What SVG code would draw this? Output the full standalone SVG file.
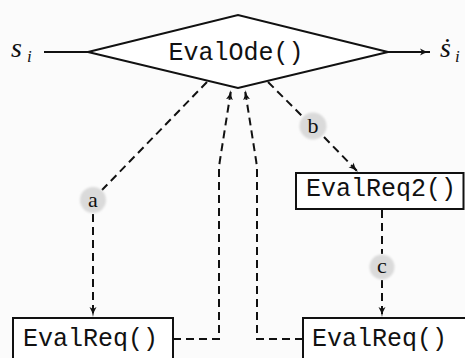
<svg xmlns="http://www.w3.org/2000/svg" width="465" height="358" viewBox="0 0 465 358">
  <defs>
    <style>
      .shape { fill: #ffffff; stroke: #111111; stroke-width: 2; }
      .wire { fill: none; stroke: #111111; stroke-width: 2; }
      .dash { fill: none; stroke: #111111; stroke-width: 2; stroke-dasharray: 8 5; }
      .code { font-family: "Liberation Mono", "Courier New", monospace; font-size: 25px; fill: #111111; }
      .math { font-family: "Liberation Serif", "Times New Roman", serif; font-style: italic; fill: #111111; }
      .tag { fill: #dadada; }
      .tagtext { font-family: "Liberation Serif", "Times New Roman", serif; font-size: 22px; fill: #111111; text-anchor: middle; }
    </style>
    <marker id="arrow" viewBox="0 0 10 8" refX="10" refY="4" markerWidth="10" markerHeight="8" markerUnits="userSpaceOnUse" orient="auto">
      <path d="M0,0.5 Q4,3.2 10,4 Q4,4.8 0,7.5 L2,4 Z" fill="#111111"/>
    </marker>
    <filter id="soft" x="-30%" y="-30%" width="160%" height="160%">
      <feGaussianBlur stdDeviation="1.2"/>
    </filter>
  </defs>

  <rect width="465" height="358" fill="#fbfbfb"/>

  <!-- connectors -->
  <g id="connectors">
    <!-- state in / derivative out -->
    <line class="wire" x1="44" y1="52" x2="88" y2="52"/>
    <line class="wire" x1="388" y1="52" x2="430" y2="52" marker-end="url(#arrow)"/>
    <!-- a: EvalOde -> EvalReq (left) -->
    <path class="dash" d="M207,82 L102,190"/>
    <path class="dash" d="M93,214 L93,317" marker-end="url(#arrow)"/>
    <!-- b: EvalOde -> EvalReq2 -->
    <path class="dash" d="M268,82 L302,116"/>
    <path class="dash" d="M324,137 L358,172" marker-end="url(#arrow)"/>
    <!-- c: EvalReq2 -> EvalReq (right) -->
    <path class="dash" d="M382,210 L382,254"/>
    <path class="dash" d="M382,280 L382,317" marker-end="url(#arrow)"/>
    <!-- results back to EvalOde -->
    <path class="dash" d="M173,339 L219,339 L219,172 Q219,166 220,160 L231,90" marker-end="url(#arrow)"/>
    <path class="dash" d="M303,339 L257,339 L257,172 Q257,166 256,160 L245,90" marker-end="url(#arrow)"/>
  </g>

  <!-- edge labels -->
  <g id="label-a">
    <circle class="tag" cx="93" cy="200" r="13" filter="url(#soft)"/>
    <text class="tagtext" x="93" y="207">a</text>
  </g>
  <g id="label-b">
    <circle class="tag" cx="313" cy="126" r="13.5" filter="url(#soft)"/>
    <text class="tagtext" x="313" y="133">b</text>
  </g>
  <g id="label-c">
    <circle class="tag" cx="382" cy="267" r="12.5" filter="url(#soft)"/>
    <text class="tagtext" x="382" y="273">c</text>
  </g>

  <!-- nodes -->
  <g id="node-si">
    <text class="math" x="11" y="57" font-size="28">s</text>
    <text class="math" x="27" y="62" font-size="17">i</text>
  </g>
  <g id="node-sdot">
    <text class="math" x="440" y="57" font-size="28">ṡ</text>
    <text class="math" x="455" y="62" font-size="17">i</text>
  </g>
  <g id="node-evalode">
    <polygon class="shape" points="88,52 238,15 388,52 238,88"/>
    <text class="code" x="236" y="60" text-anchor="middle">EvalOde()</text>
  </g>
  <g id="node-evalreq2">
    <rect class="shape" x="296" y="173" width="167.5" height="36"/>
    <text class="code" x="306" y="196">EvalReq2()</text>
  </g>
  <g id="node-evalreq-left">
    <rect class="shape" x="13" y="318" width="160" height="50"/>
    <text class="code" x="23" y="346">EvalReq()</text>
  </g>
  <g id="node-evalreq-right">
    <rect class="shape" x="303" y="318" width="170" height="50"/>
    <text class="code" x="312" y="346">EvalReq()</text>
  </g>
</svg>
